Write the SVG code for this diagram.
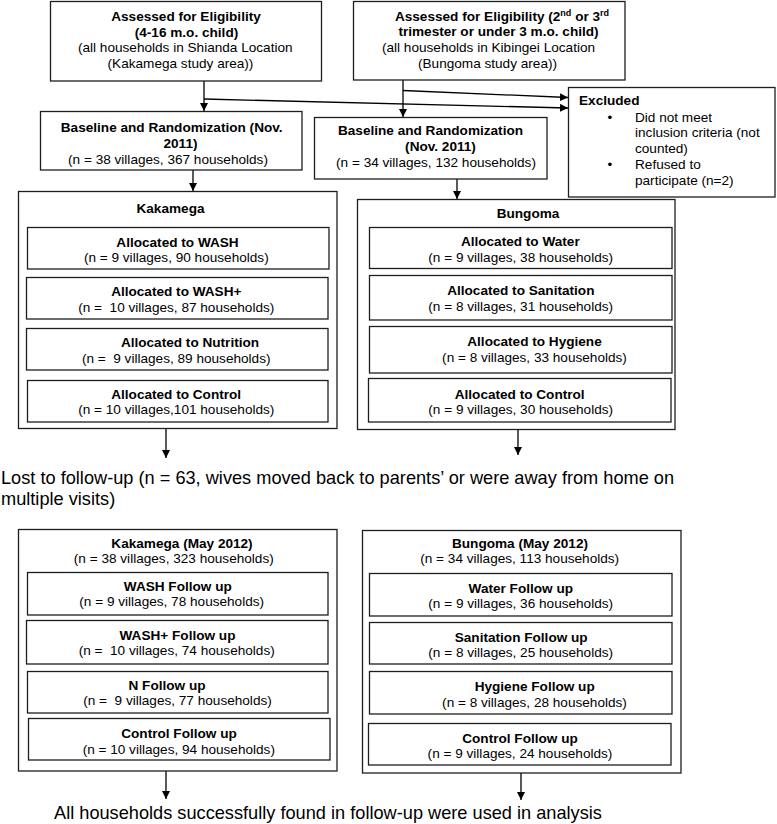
<svg xmlns="http://www.w3.org/2000/svg" width="777" height="824" viewBox="0 0 777 824">
<defs>
<style>
text{white-space:pre}
.box{fill:#fff;stroke:#1e1e1e;stroke-width:1.3}
.b{font-family:"Liberation Sans",Arial,sans-serif;font-size:13.6px;font-weight:bold;fill:#000}
.r{font-family:"Liberation Sans",Arial,sans-serif;font-size:13.6px;fill:#000}
.big{font-family:"Liberation Sans",Arial,sans-serif;font-size:18.2px;fill:#000}
.c{text-anchor:middle}
.sup{font-size:9px}
.conn{fill:none;stroke:#000;stroke-width:1.3}
</style>
<marker id="ah" markerUnits="userSpaceOnUse" markerWidth="9" markerHeight="8" refX="8" refY="4" orient="auto">
<path d="M0,0 L8,4 L0,8 z" fill="#000"/>
</marker>
</defs>
<rect width="777" height="824" fill="#fff"/>

<g id="connectors">
<path class="conn" d="M204,81 V111" marker-end="url(#ah)"/>
<path class="conn" d="M204,99 L568,108" marker-end="url(#ah)"/>
<path class="conn" d="M403,80 V117" marker-end="url(#ah)"/>
<path class="conn" d="M403,90.5 L568,97.5" marker-end="url(#ah)"/>
<path class="conn" d="M193,170 V191" marker-end="url(#ah)"/>
<path class="conn" d="M457,179 V199" marker-end="url(#ah)"/>
<path class="conn" d="M166,428.5 V458" marker-end="url(#ah)"/>
<path class="conn" d="M518,429.5 V455" marker-end="url(#ah)"/>
<path class="conn" d="M166,771 V799" marker-end="url(#ah)"/>
<path class="conn" d="M521,773 V800" marker-end="url(#ah)"/>
</g>

<g id="assess_kakamega">
<rect class="box" x="50.5" y="1.5" width="271" height="79.5"/>
<text class="b c" x="186" y="21">Assessed for Eligibility</text>
<text class="b c" x="186.5" y="36.5">(4-16 m.o. child)</text>
<text class="r c" x="185.3" y="52.3">(all households in Shianda Location</text>
<text class="r c" x="180.5" y="67.8">(Kakamega study area))</text>
</g>

<g id="assess_bungoma">
<rect class="box" x="353.5" y="1.5" width="271.5" height="78.5"/>
<text class="b c" x="502" y="20.5">Assessed for Eligibility (2<tspan class="sup" dy="-5">nd</tspan><tspan dy="5"> or 3</tspan><tspan class="sup" dy="-5">rd</tspan></text>
<text class="b c" x="498.5" y="36">trimester or under 3 m.o. child)</text>
<text class="r c" x="488.5" y="52">(all households in Kibingei Location</text>
<text class="r c" x="487.5" y="67.5">(Bungoma study area))</text>
</g>

<g id="baseline_kakamega">
<rect class="box" x="40.5" y="111.5" width="261.5" height="58.5"/>
<text class="b c" x="171.7" y="131.5">Baseline and Randomization (Nov.</text>
<text class="b c" x="180.5" y="147.5">2011)</text>
<text class="r c" x="168" y="163.5">(n = 38 villages, 367 households)</text>
</g>

<g id="baseline_bungoma">
<rect class="box" x="314.5" y="117.5" width="232.5" height="61.5"/>
<text class="b c" x="430.5" y="135">Baseline and Randomization</text>
<text class="b c" x="440.5" y="150.7">(Nov. 2011)</text>
<text class="r c" x="436" y="166.7">(n = 34 villages, 132 households)</text>
</g>

<g id="excluded">
<rect class="box" x="568.5" y="87.5" width="206.5" height="109.5"/>
<text class="b" x="579" y="105">Excluded</text>
<text class="r c" x="610" y="121.7">•</text>
<text class="r" x="635" y="121.7">Did not meet</text>
<text class="r" x="635" y="137.3">inclusion criteria (not</text>
<text class="r" x="635" y="152.5">counted)</text>
<text class="r c" x="610" y="169.3">•</text>
<text class="r" x="635" y="169.3">Refused to</text>
<text class="r" x="635" y="185">participate (n=2)</text>
</g>

<g id="kakamega">
<rect class="box" x="18.5" y="191.5" width="318.5" height="237"/>
<text class="b c" x="170.5" y="213">Kakamega</text>
</g>
<g id="k_wash">
<rect class="box" x="27.5" y="227.5" width="301.5" height="41.5"/>
<text class="b c" x="177.5" y="246.5">Allocated to WASH</text>
<text class="r c" x="176.3" y="261.7">(n = 9 villages, 90 households)</text>
</g>
<g id="k_washplus">
<rect class="box" x="26.5" y="277.5" width="301.5" height="41.5"/>
<text class="b c" x="176.3" y="296">Allocated to WASH+</text>
<text class="r c" x="176.3" y="311.7">(n =  10 villages, 87 households)</text>
</g>
<g id="k_nutrition">
<rect class="box" x="26.5" y="328.5" width="301.5" height="41.5"/>
<text class="b c" x="190" y="347.3">Allocated to Nutrition</text>
<text class="r c" x="176.2" y="362.7">(n =  9 villages, 89 households)</text>
</g>
<g id="k_control">
<rect class="box" x="27.5" y="380.5" width="300.5" height="41.5"/>
<text class="b c" x="176.2" y="399.3">Allocated to Control</text>
<text class="r c" x="176.3" y="414.3">(n = 10 villages,101 households)</text>
</g>

<g id="bungoma">
<rect class="box" x="357.5" y="199.5" width="317.5" height="230"/>
<text class="b c" x="528" y="217.5">Bungoma</text>
</g>
<g id="b_water">
<rect class="box" x="369.5" y="227.5" width="302.5" height="41"/>
<text class="b c" x="520.3" y="246">Allocated to Water</text>
<text class="r c" x="520.7" y="262">(n = 9 villages, 38 households)</text>
</g>
<g id="b_sanitation">
<rect class="box" x="369.5" y="275.5" width="302.5" height="44.5"/>
<text class="b c" x="520.8" y="295">Allocated to Sanitation</text>
<text class="r c" x="520.7" y="310.5">(n = 8 villages, 31 households)</text>
</g>
<g id="b_hygiene">
<rect class="box" x="369.5" y="326.5" width="302.5" height="46.5"/>
<text class="b c" x="534.5" y="346">Allocated to Hygiene</text>
<text class="r c" x="534.5" y="362">(n = 8 villages, 33 households)</text>
</g>
<g id="b_control">
<rect class="box" x="368.5" y="378.5" width="302.5" height="43.5"/>
<text class="b c" x="519.7" y="398.5">Allocated to Control</text>
<text class="r c" x="520.7" y="414">(n = 9 villages, 30 households)</text>
</g>

<g id="lost">
<text class="big" x="1" y="484">Lost to follow-up (n = 63, wives moved back to parents’ or were away from home on</text>
<text class="big" x="1" y="504.5">multiple visits)</text>
</g>

<g id="kakamega_fu">
<rect class="box" x="18.5" y="529.5" width="318.5" height="241.5"/>
<text class="b c" x="182" y="548">Kakamega (May 2012)</text>
<text class="r c" x="173.8" y="562.5">(n = 38 villages, 323 households)</text>
</g>
<g id="k_wash_fu">
<rect class="box" x="27.5" y="572.5" width="300.5" height="42.5"/>
<text class="b c" x="177.8" y="591">WASH Follow up</text>
<text class="r c" x="171.7" y="606">(n = 9 villages, 78 households)</text>
</g>
<g id="k_washplus_fu">
<rect class="box" x="26.5" y="620.5" width="301.5" height="43.5"/>
<text class="b c" x="177.5" y="640">WASH+ Follow up</text>
<text class="r c" x="176.7" y="655">(n =  10 villages, 74 households)</text>
</g>
<g id="k_n_fu">
<rect class="box" x="27.5" y="671.5" width="300.5" height="41.5"/>
<text class="b c" x="167" y="690">N Follow up</text>
<text class="r c" x="177.5" y="705">(n =  9 villages, 77 households)</text>
</g>
<g id="k_control_fu">
<rect class="box" x="28.5" y="718.5" width="301.5" height="41.5"/>
<text class="b c" x="179" y="737.5">Control Follow up</text>
<text class="r c" x="178.8" y="754">(n = 10 villages, 94 households)</text>
</g>

<g id="bungoma_fu">
<rect class="box" x="362.5" y="530.5" width="318.5" height="242.5"/>
<text class="b c" x="520" y="548">Bungoma (May 2012)</text>
<text class="r c" x="519.7" y="562.5">(n = 34 villages, 113 households)</text>
</g>
<g id="b_water_fu">
<rect class="box" x="369.5" y="573.5" width="302.5" height="42.5"/>
<text class="b c" x="520.8" y="593.3">Water Follow up</text>
<text class="r c" x="520.7" y="608.3">(n = 9 villages, 36 households)</text>
</g>
<g id="b_sanitation_fu">
<rect class="box" x="369.5" y="622.5" width="302.5" height="41.5"/>
<text class="b c" x="521.2" y="641.7">Sanitation Follow up</text>
<text class="r c" x="520.7" y="656.7">(n = 8 villages, 25 households)</text>
</g>
<g id="b_hygiene_fu">
<rect class="box" x="369.5" y="671.5" width="302.5" height="42.5"/>
<text class="b c" x="534.7" y="690.7">Hygiene Follow up</text>
<text class="r c" x="534.5" y="706.7">(n = 8 villages, 28 households)</text>
</g>
<g id="b_control_fu">
<rect class="box" x="368.5" y="723.5" width="302.5" height="41.5"/>
<text class="b c" x="520" y="742.7">Control Follow up</text>
<text class="r c" x="520" y="758.3">(n = 9 villages, 24 households)</text>
</g>

<g id="analysis">
<text class="big" x="54" y="819">All households successfully found in follow-up were used in analysis</text>
</g>
</svg>
